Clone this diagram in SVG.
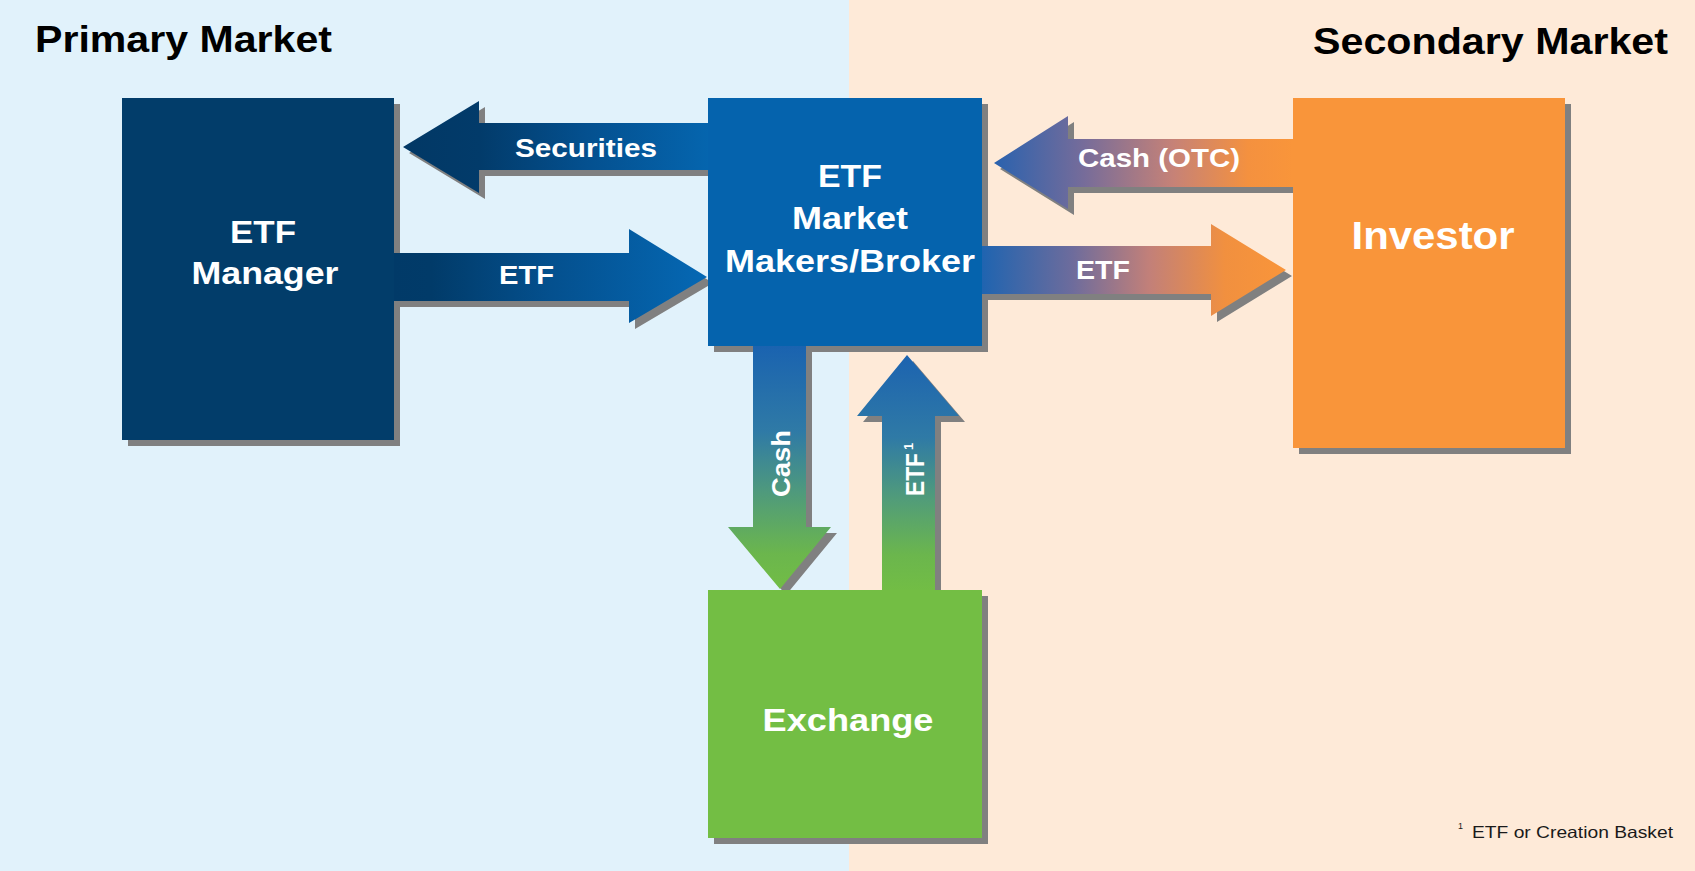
<svg xmlns="http://www.w3.org/2000/svg" xmlns:xlink="http://www.w3.org/1999/xlink" width="1695" height="871" viewBox="0 0 1695 871">
<style>
  .t { font-family: "Liberation Sans", Arial, sans-serif; font-weight: bold; fill: #ffffff; }
  .title { font-family: "Liberation Sans", Arial, sans-serif; font-weight: bold; fill: #000000; font-size: 37px; }
  .box { font-size: 32px; }
  .lab { font-size: 26px; }
  .shadow { fill: #808080; }
  .foot { font-family: "Liberation Sans", Arial, sans-serif; fill: #1a1a1a; }
</style>
<defs>
  <linearGradient id="gSec" gradientUnits="userSpaceOnUse" x1="403" y1="0" x2="708" y2="0">
    <stop offset="0" stop-color="#023865"/>
    <stop offset="0.25" stop-color="#023b6a"/>
    <stop offset="0.6" stop-color="#04508f"/>
    <stop offset="1" stop-color="#0565ae"/>
  </linearGradient>
  <linearGradient id="gEtf1" gradientUnits="userSpaceOnUse" x1="394" y1="0" x2="707" y2="0">
    <stop offset="0" stop-color="#013a68"/>
    <stop offset="0.12" stop-color="#013b69"/>
    <stop offset="0.5" stop-color="#04508e"/>
    <stop offset="1" stop-color="#0568b4"/>
  </linearGradient>
  <linearGradient id="gOtc" gradientUnits="userSpaceOnUse" x1="994" y1="0" x2="1293" y2="0">
    <stop offset="0" stop-color="#2a62ae"/>
    <stop offset="0.3" stop-color="#766c9a"/>
    <stop offset="0.6" stop-color="#c68277"/>
    <stop offset="0.85" stop-color="#f4913f"/>
    <stop offset="1" stop-color="#f9953a"/>
  </linearGradient>
  <linearGradient id="gEtf2" gradientUnits="userSpaceOnUse" x1="982" y1="0" x2="1286" y2="0">
    <stop offset="0" stop-color="#1f64b0"/>
    <stop offset="0.3" stop-color="#6e6c9c"/>
    <stop offset="0.55" stop-color="#c28079"/>
    <stop offset="0.8" stop-color="#f1903f"/>
    <stop offset="1" stop-color="#f9953a"/>
  </linearGradient>
  <linearGradient id="gCash" gradientUnits="userSpaceOnUse" x1="0" y1="346" x2="0" y2="590">
    <stop offset="0" stop-color="#1a63b0"/>
    <stop offset="0.35" stop-color="#2f7aa6"/>
    <stop offset="0.6" stop-color="#4f9a7c"/>
    <stop offset="0.85" stop-color="#6bb64d"/>
    <stop offset="1" stop-color="#72bd45"/>
  </linearGradient>
  <linearGradient id="gEtf3" gradientUnits="userSpaceOnUse" x1="0" y1="355" x2="0" y2="590">
    <stop offset="0" stop-color="#1c63b0"/>
    <stop offset="0.35" stop-color="#2f7aa6"/>
    <stop offset="0.62" stop-color="#529d78"/>
    <stop offset="0.85" stop-color="#6bb64d"/>
    <stop offset="1" stop-color="#72bd45"/>
  </linearGradient>
  <polygon id="aSec" points="403,147 479,101 479,123 708,123 708,170 479,170 479,193"/>
  <polygon id="aEtf1" points="394,253 629,253 629,229 707,277 629,323 629,301 394,301"/>
  <polygon id="aOtc" points="994,163 1068,116 1068,139 1293,139 1293,187 1068,187 1068,209"/>
  <polygon id="aEtf2" points="982,246 1211,246 1211,224 1286,270 1211,316 1211,294 982,294"/>
  <polygon id="aCash" points="753,346 806,346 806,527 831,527 780,589 728,527 753,527"/>
  <polygon id="aEtf3" points="882,590 882,416 857,416 907,355 959,416 935,416 935,590"/>
</defs>

<!-- backgrounds -->
<rect x="0" y="0" width="849" height="871" fill="#e1f2fb"/>
<rect x="849" y="0" width="846" height="871" fill="#feead8"/>
<text class="title" x="35" y="52" textLength="297" lengthAdjust="spacingAndGlyphs">Primary Market</text>
<text class="title" x="1313" y="54" textLength="355" lengthAdjust="spacingAndGlyphs">Secondary Market</text>

<!-- shadows -->
<g id="shadows" class="shadow">
  <rect x="128" y="104" width="272" height="342"/>
  <rect x="714" y="104" width="274" height="248"/>
  <rect x="1299" y="104" width="272" height="350"/>
  <rect x="714" y="596" width="274" height="248"/>
  <use xlink:href="#aSec" transform="translate(6,6)"/>
  <use xlink:href="#aEtf1" transform="translate(6,6)"/>
  <use xlink:href="#aOtc" transform="translate(6,6)"/>
  <use xlink:href="#aEtf2" transform="translate(6,6)"/>
  <use xlink:href="#aCash" transform="translate(6,6)"/>
  <use xlink:href="#aEtf3" transform="translate(6,6)"/>
</g>

<!-- connectors -->
<g id="connectors">
  <use xlink:href="#aSec" fill="url(#gSec)"/>
  <use xlink:href="#aEtf1" fill="url(#gEtf1)"/>
  <use xlink:href="#aOtc" fill="url(#gOtc)"/>
  <use xlink:href="#aEtf2" fill="url(#gEtf2)"/>
  <use xlink:href="#aCash" fill="url(#gCash)"/>
  <use xlink:href="#aEtf3" fill="url(#gEtf3)"/>
  <text class="t lab" x="515" y="157" textLength="142" lengthAdjust="spacingAndGlyphs">Securities</text>
  <text class="t lab" x="499" y="284" textLength="55" lengthAdjust="spacingAndGlyphs">ETF</text>
  <text class="t lab" x="1078" y="167" textLength="162" lengthAdjust="spacingAndGlyphs">Cash (OTC)</text>
  <text class="t lab" x="1076" y="279" textLength="54" lengthAdjust="spacingAndGlyphs">ETF</text>
  <text class="t lab" transform="translate(790,497) rotate(-90)" x="0" y="0" textLength="67" lengthAdjust="spacingAndGlyphs">Cash</text>
  <text class="t lab" transform="translate(924,496) rotate(-90)" x="0" y="0"><tspan textLength="43" lengthAdjust="spacingAndGlyphs">ETF</tspan><tspan dx="3" dy="-11" font-size="13">1</tspan></text>
</g>

<!-- nodes -->
<g id="etf-manager">
  <rect x="122" y="98" width="272" height="342" fill="#023d6a"/>
  <text class="t box" x="263" y="243" text-anchor="middle" textLength="66" lengthAdjust="spacingAndGlyphs">ETF</text>
  <text class="t box" x="265" y="284" text-anchor="middle" textLength="147" lengthAdjust="spacingAndGlyphs">Manager</text>
</g>
<g id="market-makers">
  <rect x="708" y="98" width="274" height="248" fill="#0563ad"/>
  <text class="t box" x="850" y="187" text-anchor="middle" textLength="64" lengthAdjust="spacingAndGlyphs">ETF</text>
  <text class="t box" x="850" y="229" text-anchor="middle" textLength="116" lengthAdjust="spacingAndGlyphs">Market</text>
  <text class="t box" x="850" y="272" text-anchor="middle" textLength="250" lengthAdjust="spacingAndGlyphs">Makers/Broker</text>
</g>
<g id="investor">
  <rect x="1293" y="98" width="272" height="350" fill="#f9953a"/>
  <text class="t" x="1433" y="249" font-size="38" text-anchor="middle" textLength="163" lengthAdjust="spacingAndGlyphs">Investor</text>
</g>
<g id="exchange">
  <rect x="708" y="590" width="274" height="248" fill="#73be44"/>
  <text class="t box" x="848" y="731" text-anchor="middle" textLength="171" lengthAdjust="spacingAndGlyphs">Exchange</text>
</g>

<!-- footnote -->
<g id="footnote">
  <text class="foot" x="1458" y="829" font-size="9">1</text>
  <text class="foot" x="1472" y="838" font-size="16.5" textLength="201" lengthAdjust="spacingAndGlyphs">ETF or Creation Basket</text>
</g>
</svg>
